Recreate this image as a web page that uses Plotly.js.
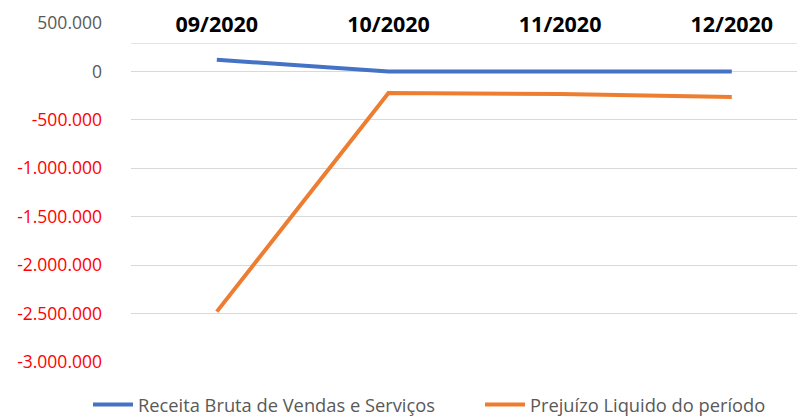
<!DOCTYPE html>
<html><head><meta charset="utf-8">
<script src="https://cdn.plot.ly/plotly-3.0.1.min.js"></script>
<style>html,body{margin:0;padding:0;background:#fff}#chart{width:797px;height:417px}</style>
</head><body><div id="chart"></div>
<script>
const categories = ['09/2020', '10/2020', '11/2020', '12/2020'];
const receita = [120000, 0, 0, 0];
const prejuizo = [-2480000, -223000, -233000, -265000];
const seriesNames = ['Receita Bruta de Vendas e Serviços', 'Prejuízo Liquido do período'];
const tickValues = [500000, 0, -500000, -1000000, -1500000, -2000000, -2500000, -3000000];
const tickLabels = ['500.000', '0', '-500.000', '-1.000.000', '-1.500.000', '-2.000.000', '-2.500.000', '-3.000.000'];
const gridValues = [0, -500000, -1000000, -1500000, -2000000, -2500000, -3000000];

const tickText = tickValues.map((v, i) => v < 0 ? '<span style="color:#ff0000">' + tickLabels[i] + '</span>' : tickLabels[i]);

const traces = [
  {x: categories, y: receita, name: seriesNames[0], type: 'scatter', mode: 'lines',
   line: {color: '#4472c4', width: 4}, legend: 'legend'},
  {x: categories, y: prejuizo, name: seriesNames[1], type: 'scatter', mode: 'lines',
   line: {color: '#ed7d31', width: 4}, legend: 'legend2'}
];

const legendBase = {orientation: 'h', xref: 'container', yref: 'container', yanchor: 'middle', xanchor: 'left',
  y: 0.03, font: {size: 18.3, color: '#595959', family: 'Open Sans, sans-serif'}, bgcolor: 'rgba(0,0,0,0)', itemwidth: 40};

const yRange = [-3000000, 500000];

const layout = {
  width: 797, height: 417,
  margin: {l: 131, r: 0, t: 23, b: 55},
  paper_bgcolor: '#ffffff', plot_bgcolor: '#ffffff',
  font: {family: 'Open Sans, sans-serif', color: '#595959', size: 17},
  showlegend: true,
  legend: Object.assign({}, legendBase, {x: 88 / 797}),
  legend2: Object.assign({}, legendBase, {x: 480 / 797}),
  xaxis: {type: 'category', side: 'top', anchor: 'free', position: 0.941, range: [-0.5, 3.38],
          showgrid: false, zeroline: false, showline: true, linecolor: '#dde5ee', linewidth: 1,
          ticks: '', tickfont: {family: 'Open Sans, sans-serif', size: 21.5, color: '#000000', weight: 'bold'},
          ticklabelstandoff: 2, automargin: false},
  yaxis: {range: yRange, tickvals: gridValues, showticklabels: false, showgrid: true,
          gridcolor: '#d9d9d9', gridwidth: 1, zeroline: false, showline: false, ticks: ''},
  yaxis2: {overlaying: 'y', side: 'left', range: yRange, tickvals: tickValues, ticktext: tickText,
           showgrid: false, zeroline: false, showline: false, ticks: '', automargin: false,
           tickfont: {family: 'Open Sans, sans-serif', size: 17.5, color: '#595959'}, ticklabelstandoff: 28}
};

traces.push({x: [categories[0]], y: [null], yaxis: 'y2', showlegend: false, hoverinfo: 'skip', mode: 'lines'});

Plotly.newPlot('chart', traces, layout, {displayModeBar: false, staticPlot: true});
</script></body></html>
